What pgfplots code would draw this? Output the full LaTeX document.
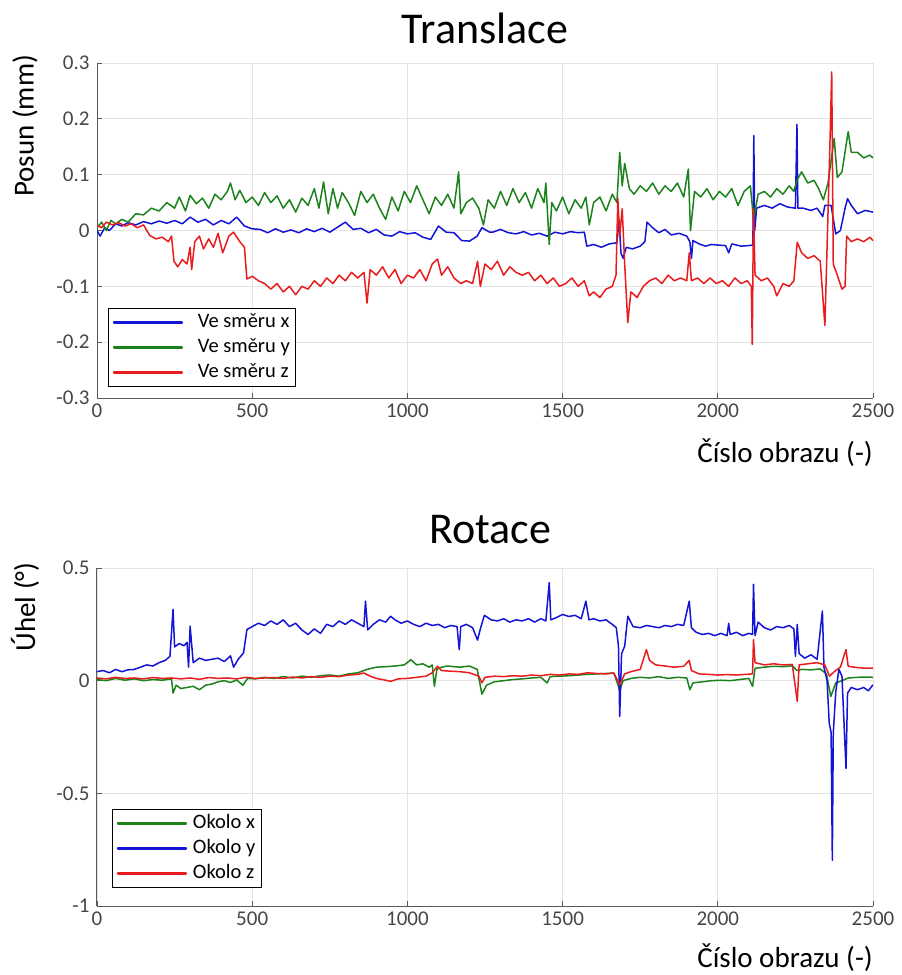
\documentclass[border=0pt]{standalone}
\usepackage{pgfplots}
\pgfplotsset{compat=1.18}
\usepackage{fontspec}
\setmainfont{Carlito}
\definecolor{cblue}{RGB}{20,20,215}
\definecolor{cgreen}{RGB}{28,130,28}
\definecolor{cred}{RGB}{232,28,28}
\definecolor{tickgray}{RGB}{70,70,70}
\pgfplotsset{
  common/.style={
    scale only axis, width=776pt,
    xmin=0, xmax=2500, xtick={0,500,1000,1500,2000,2500},
    scaled ticks=false,
    /pgf/number format/assume math mode=true,
    /pgf/number format/1000 sep={},
    axis x line*=bottom, axis y line*=left,
    axis line style={-, draw=black!65, line width=1pt},
    tick style={draw=black!65, line width=0.8pt},
    tick align=inside, major tick length=5pt,
    grid=major, major grid style={draw=gray!22, line width=0.7pt},
    ticklabel style={font=\fontsize{21}{24}\selectfont, text=tickgray},
    yticklabel style={anchor=east, xshift=-4pt},
    xticklabel style={anchor=center, yshift=-13pt},
    title style={font=\fontsize{44}{48}\selectfont, anchor=center},
    label style={font=\fontsize{29}{32}\selectfont},
    legend cell align=left,
    legend style={font=\fontsize{20.5}{22}\selectfont, draw=black, line width=0.9pt,
      inner xsep=5pt, inner ysep=4pt, fill=white, text=black,
      nodes={inner sep=1pt, text height=14pt, text depth=4pt},
      row sep=5pt},
    every axis plot/.append style={line width=1.5pt, line join=round},
  },
  imgblue/.style={legend image code/.code={\fill[fill=cblue!65] (0pt,-0.5pt) rectangle (68pt,0.5pt);}},
  imggreen/.style={legend image code/.code={\fill[fill=cgreen!65] (0pt,-0.5pt) rectangle (68pt,0.5pt);}},
  imgred/.style={legend image code/.code={\fill[fill=cred!65] (0pt,-0.5pt) rectangle (68pt,0.5pt);}},
}
\begin{document}
\begin{tikzpicture}
\useasboundingbox (0pt,0pt) rectangle (902pt,-975pt);
% ---------------- Translace ----------------
\begin{axis}[common, at={(97pt,-398pt)}, anchor=south west, height=335pt,
  ymin=-0.3, ymax=0.3, ytick={-0.3,-0.2,-0.1,0,0.1,0.2,0.3},
  yticklabel style={/pgf/number format/fixed, /pgf/number format/precision=1},
  title={Translace}, title style={at={(rel axis cs:0.5,1)}, yshift=29pt},
  xlabel={Číslo obrazu (-)}, xlabel style={at={(rel axis cs:1,0)}, anchor=east, yshift=-55pt, inner sep=0pt},
  ylabel={Posun (mm)}, ylabel style={at={(rel axis cs:0,0.812)}, anchor=center, yshift=72pt},
  legend style={at={(rel axis cs:0,0)}, anchor=south west, xshift=11pt, yshift=11pt,
    /tikz/every odd column/.append style={column sep=14pt}},
]
\addplot[color=cblue, imgblue] table {
0 0.000
10 -0.010
25 0.005
40 0.000
60 0.012
80 0.008
100 0.014
125 0.010
150 0.016
175 0.012
200 0.017
225 0.013
250 0.018
275 0.012
300 0.024
325 0.015
350 0.020
375 0.010
400 0.018
425 0.012
450 0.024
475 0.008
500 0.003
525 0.002
550 -0.004
575 0.003
600 -0.003
625 0.001
650 -0.004
675 0.003
700 -0.002
725 0.004
750 -0.003
775 0.006
800 0.015
825 0.002
850 0.004
875 -0.004
900 0.002
925 -0.008
950 -0.010
975 -0.002
1000 -0.006
1025 -0.004
1050 -0.012
1075 -0.016
1100 0.008
1125 -0.003
1150 -0.004
1175 -0.018
1200 -0.019
1225 -0.010
1240 0.005
1265 -0.003
1275 -0.003
1300 0.002
1325 -0.004
1350 -0.006
1375 -0.002
1400 -0.008
1425 -0.005
1450 -0.010
1475 -0.003
1500 -0.006
1525 -0.002
1550 -0.004
1570 -0.003
1578 -0.028
1600 -0.025
1625 -0.030
1650 -0.024
1675 -0.022
1682 0.018
1688 -0.040
1695 -0.050
1705 -0.030
1725 -0.033
1750 -0.028
1765 -0.020
1772 0.015
1790 0.005
1810 -0.004
1830 0.002
1850 -0.008
1875 -0.005
1900 -0.010
1910 -0.020
1915 -0.050
1920 -0.018
1940 -0.024
1960 -0.028
1980 -0.025
2000 -0.026
2025 -0.027
2035 -0.040
2045 -0.024
2075 -0.028
2100 -0.027
2113 -0.026
2116 0.170
2119 0.000
2125 0.040
2150 0.045
2175 0.040
2200 0.048
2225 0.042
2250 0.040
2255 0.190
2258 0.040
2275 0.040
2300 0.036
2320 0.040
2338 0.025
2345 0.045
2365 0.045
2380 -0.006
2395 0.000
2410 0.040
2418 0.057
2430 0.045
2450 0.030
2475 0.036
2500 0.033
};
\addlegendentry{Ve směru x\hspace{18pt}}
\addplot[color=cgreen, imggreen] table {
0 0.005
15 0.015
30 0.000
45 0.018
60 0.012
80 0.020
100 0.015
125 0.030
150 0.028
175 0.040
200 0.035
225 0.050
250 0.040
265 0.060
285 0.035
300 0.063
320 0.048
340 0.058
360 0.040
380 0.065
400 0.055
420 0.070
430 0.085
445 0.055
460 0.072
480 0.050
500 0.060
520 0.045
540 0.068
560 0.050
580 0.062
600 0.040
620 0.055
640 0.033
660 0.058
680 0.045
700 0.075
715 0.040
730 0.087
745 0.030
760 0.075
775 0.040
790 0.068
810 0.050
830 0.027
850 0.070
870 0.050
890 0.065
910 0.040
930 0.020
950 0.060
970 0.035
990 0.070
1010 0.050
1030 0.080
1050 0.055
1070 0.030
1090 0.060
1110 0.045
1130 0.065
1150 0.040
1165 0.105
1172 0.030
1190 0.050
1210 0.058
1230 0.040
1245 0.010
1260 0.055
1280 0.040
1300 0.070
1320 0.045
1340 0.075
1360 0.050
1380 0.068
1400 0.040
1420 0.075
1440 0.050
1446 0.085
1457 -0.025
1465 0.050
1480 0.035
1500 0.060
1520 0.030
1540 0.055
1560 0.040
1575 0.060
1586 0.010
1600 0.050
1620 0.060
1640 0.035
1660 0.065
1675 0.050
1684 0.140
1692 0.080
1700 0.120
1715 0.075
1730 0.065
1750 0.080
1770 0.070
1790 0.085
1810 0.065
1830 0.080
1850 0.070
1870 0.085
1890 0.060
1905 0.110
1912 0.000
1925 0.070
1945 0.060
1965 0.075
1985 0.055
2005 0.070
2025 0.060
2045 0.075
2065 0.045
2085 0.070
2105 0.080
2115 0.020
2130 0.065
2150 0.070
2170 0.060
2190 0.075
2210 0.065
2230 0.080
2245 0.070
2255 0.090
2270 0.105
2290 0.085
2310 0.090
2325 0.075
2340 0.055
2355 0.085
2375 0.165
2385 0.095
2400 0.105
2420 0.177
2430 0.140
2450 0.140
2470 0.130
2490 0.135
2500 0.130
};
\addlegendentry{Ve směru y\hspace{18pt}}
\addplot[color=cred, imgred] table {
0 0.010
15 0.005
30 0.015
50 0.010
70 0.014
90 0.008
110 0.012
130 0.005
150 0.010
170 -0.009
190 -0.015
210 -0.012
230 -0.020
240 -0.010
248 -0.055
260 -0.065
275 -0.052
290 -0.060
300 -0.030
305 -0.070
315 -0.020
330 -0.010
343 -0.033
360 -0.015
375 -0.030
390 -0.005
405 -0.040
425 -0.010
440 -0.003
460 -0.020
475 -0.030
483 -0.087
500 -0.082
520 -0.090
540 -0.095
560 -0.105
580 -0.095
600 -0.110
620 -0.100
640 -0.115
660 -0.100
680 -0.105
700 -0.090
720 -0.100
740 -0.085
760 -0.095
780 -0.080
800 -0.090
820 -0.075
840 -0.085
860 -0.075
870 -0.130
880 -0.070
900 -0.080
920 -0.065
940 -0.085
960 -0.070
980 -0.095
1000 -0.080
1020 -0.085
1040 -0.070
1060 -0.090
1080 -0.060
1097 -0.051
1110 -0.080
1130 -0.065
1150 -0.085
1172 -0.095
1190 -0.090
1210 -0.095
1226 -0.055
1235 -0.100
1250 -0.060
1270 -0.070
1290 -0.055
1310 -0.080
1330 -0.065
1350 -0.075
1370 -0.080
1390 -0.075
1410 -0.090
1430 -0.080
1450 -0.095
1470 -0.085
1490 -0.100
1510 -0.095
1530 -0.085
1550 -0.100
1570 -0.090
1586 -0.117
1600 -0.110
1620 -0.120
1640 -0.105
1660 -0.100
1672 -0.080
1678 0.057
1684 -0.010
1692 0.039
1700 -0.060
1710 -0.165
1720 -0.110
1740 -0.120
1760 -0.100
1780 -0.090
1800 -0.085
1820 -0.095
1840 -0.080
1860 -0.090
1880 -0.085
1900 -0.090
1908 -0.040
1915 -0.090
1935 -0.085
1955 -0.095
1975 -0.085
1995 -0.095
2015 -0.090
2035 -0.100
2055 -0.085
2075 -0.095
2095 -0.090
2108 -0.100
2111 -0.204
2115 0.039
2120 -0.080
2140 -0.090
2160 -0.085
2180 -0.100
2190 -0.117
2210 -0.095
2230 -0.100
2245 -0.090
2256 -0.021
2270 -0.040
2290 -0.050
2310 -0.045
2330 -0.055
2345 -0.170
2352 -0.030
2360 0.129
2367 0.284
2372 -0.060
2385 -0.080
2400 -0.105
2410 -0.100
2415 -0.010
2430 -0.020
2450 -0.015
2470 -0.020
2490 -0.012
2500 -0.018
};
\addlegendentry{Ve směru z\hspace{18pt}}
\end{axis}
% ---------------- Rotace ----------------
\begin{axis}[common, at={(97pt,-906pt)}, anchor=south west, height=338pt,
  ymin=-1, ymax=0.5, ytick={-1,-0.5,0,0.5},
  title={Rotace}, title style={at={(rel axis cs:0.5,1)}, yshift=32pt, xshift=5pt},
  xlabel={Číslo obrazu (-)}, xlabel style={at={(rel axis cs:1,0)}, anchor=east, yshift=-52pt, inner sep=0pt},
  ylabel={Úhel (°)}, ylabel style={at={(rel axis cs:0,0.885)}, anchor=center, yshift=72pt},
  legend style={at={(rel axis cs:0,0)}, anchor=south west, xshift=15pt, yshift=18pt,
    /tikz/every odd column/.append style={column sep=5pt}},
]
\addplot[color=cgreen, imggreen] table {
0 0.005
30 0.000
60 0.010
90 0.002
120 0.008
150 0.000
180 0.005
210 0.002
240 0.008
245 -0.055
255 -0.020
270 -0.035
290 -0.030
310 -0.025
330 -0.040
350 -0.020
370 -0.015
390 -0.005
410 0.000
430 -0.008
450 0.003
470 -0.020
485 0.010
510 0.008
540 0.015
570 0.010
600 0.018
630 0.012
660 0.020
690 0.015
720 0.022
750 0.025
780 0.020
810 0.030
840 0.035
870 0.050
900 0.060
930 0.062
960 0.065
990 0.070
1011 0.093
1030 0.070
1050 0.075
1070 0.060
1080 0.070
1087 -0.025
1095 0.050
1110 0.060
1130 0.065
1150 0.062
1170 0.060
1200 0.065
1225 0.050
1240 -0.060
1255 -0.020
1280 -0.005
1310 0.000
1340 0.005
1370 0.008
1400 0.012
1430 0.015
1450 -0.010
1460 0.018
1490 0.020
1520 0.022
1550 0.025
1580 0.028
1610 0.030
1640 0.032
1665 0.034
1684 -0.040
1695 0.000
1720 0.010
1750 0.015
1780 0.012
1810 0.018
1840 0.010
1870 0.015
1900 0.012
1910 -0.040
1920 -0.010
1950 -0.005
1980 0.000
2010 0.002
2040 0.000
2070 0.005
2100 0.010
2112 -0.025
2120 0.055
2150 0.060
2180 0.064
2210 0.062
2240 0.066
2255 0.045
2270 0.050
2300 0.048
2330 0.052
2350 0.030
2364 -0.070
2380 -0.010
2400 0.000
2420 0.012
2450 0.015
2480 0.016
2500 0.015
};
\addlegendentry{Okolo x}
\addplot[color=cblue, imgblue] table {
0 0.040
20 0.045
40 0.035
60 0.050
80 0.040
100 0.048
120 0.050
140 0.060
160 0.070
180 0.065
200 0.080
220 0.090
235 0.108
245 0.316
250 0.150
265 0.165
280 0.155
290 0.170
295 0.060
300 0.242
310 0.080
330 0.100
350 0.090
370 0.095
390 0.100
410 0.085
430 0.110
440 0.060
455 0.095
472 0.123
483 0.227
500 0.240
520 0.255
540 0.245
560 0.265
580 0.250
600 0.270
620 0.240
640 0.255
660 0.225
680 0.205
700 0.230
720 0.210
740 0.250
760 0.240
780 0.265
800 0.250
820 0.270
840 0.255
860 0.240
865 0.353
872 0.225
890 0.250
910 0.270
930 0.260
946 0.286
960 0.270
980 0.255
1000 0.265
1020 0.250
1040 0.240
1060 0.255
1080 0.245
1100 0.250
1120 0.235
1140 0.245
1160 0.240
1167 0.138
1172 0.240
1190 0.250
1210 0.235
1226 0.180
1235 0.230
1248 0.290
1270 0.270
1290 0.265
1310 0.275
1330 0.260
1350 0.270
1370 0.265
1390 0.275
1410 0.260
1430 0.275
1446 0.265
1457 0.435
1462 0.270
1480 0.280
1500 0.294
1520 0.285
1540 0.290
1560 0.275
1575 0.353
1585 0.270
1600 0.275
1620 0.265
1640 0.270
1660 0.250
1673 0.235
1680 0.153
1684 -0.159
1690 0.120
1700 0.153
1710 0.286
1727 0.240
1750 0.235
1770 0.245
1790 0.240
1810 0.235
1830 0.245
1850 0.240
1870 0.250
1890 0.245
1908 0.353
1915 0.235
1930 0.215
1950 0.205
1970 0.210
1990 0.200
2010 0.210
2030 0.200
2035 0.255
2040 0.205
2060 0.215
2080 0.200
2100 0.210
2112 0.205
2115 0.427
2120 0.200
2130 0.260
2150 0.235
2170 0.225
2190 0.240
2210 0.235
2230 0.245
2245 0.230
2250 0.108
2256 0.250
2262 0.120
2280 0.100
2300 0.115
2320 0.095
2337 0.309
2342 0.060
2352 0.000
2359 -0.188
2365 -0.230
2369 -0.797
2372 -0.233
2380 -0.050
2390 0.050
2400 0.020
2413 -0.389
2418 -0.055
2430 -0.030
2450 -0.040
2470 -0.030
2485 -0.045
2500 -0.018
};
\addlegendentry{Okolo y}
\addplot[color=cred, imgred] table {
0 0.012
30 0.008
60 0.015
90 0.010
120 0.012
150 0.008
180 0.014
210 0.010
240 0.012
270 0.008
300 0.012
330 0.006
360 0.014
390 0.010
420 0.012
450 0.008
480 0.015
510 0.010
540 0.012
570 0.014
600 0.010
630 0.016
660 0.012
690 0.018
720 0.015
750 0.020
780 0.018
810 0.025
840 0.028
860 0.034
880 0.020
900 0.010
920 0.005
946 -0.003
970 0.008
1000 0.010
1030 0.015
1060 0.020
1080 0.035
1097 0.064
1110 0.045
1140 0.042
1170 0.040
1200 0.035
1230 0.020
1240 -0.010
1250 0.015
1280 0.020
1310 0.018
1340 0.022
1370 0.020
1400 0.025
1430 0.022
1460 0.028
1490 0.025
1520 0.030
1550 0.028
1580 0.035
1610 0.032
1640 0.030
1665 0.034
1684 -0.018
1700 0.030
1720 0.040
1750 0.050
1770 0.138
1780 0.090
1800 0.070
1830 0.065
1860 0.060
1890 0.064
1908 0.090
1915 0.045
1940 0.030
1970 0.028
2000 0.025
2030 0.027
2060 0.025
2090 0.028
2112 0.030
2115 0.182
2120 0.080
2150 0.070
2180 0.075
2210 0.070
2240 0.072
2256 -0.092
2262 0.070
2290 0.075
2320 0.080
2345 0.070
2360 0.020
2375 0.040
2395 0.060
2413 0.138
2420 0.064
2450 0.058
2480 0.055
2500 0.056
};
\addlegendentry{Okolo z}
\end{axis}
\end{tikzpicture}
\end{document}
